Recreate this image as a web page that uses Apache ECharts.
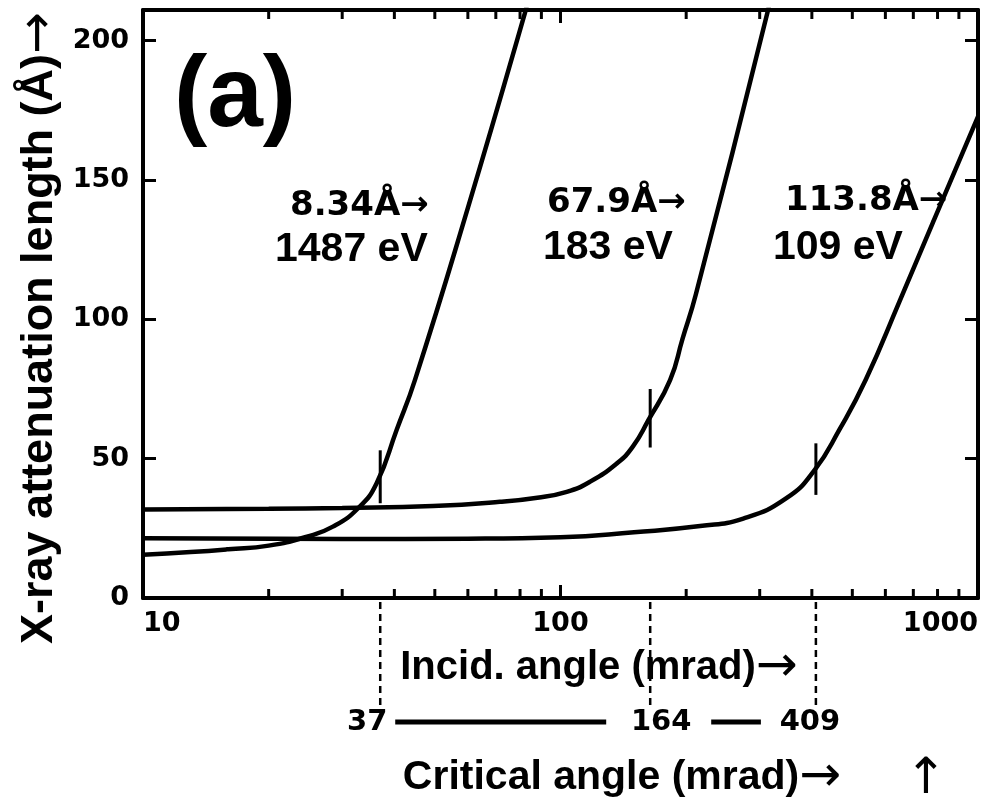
<!DOCTYPE html>
<html>
<head>
<meta charset="utf-8">
<script src="https://cdn.jsdelivr.net/npm/echarts@6/dist/echarts.min.js"></script>
<style>
html,body{margin:0;padding:0;background:#fff;}
#chart{width:1006px;height:798px;}
</style>
</head>
<body>
<div id="chart"></div>
<script>
// X-ray attenuation length vs. incidence angle for three photon energies
const curve1487eV = [[10,15.5],[13,16.5],[16,17.5],[20,18.8],[24.7,22],[28.5,25.6],[32.8,32.3],[36.3,41.3],[40.5,60.3],[44.8,78.2],[60,140],[82.2,210],[84,216]];
const curve183eV = [[10,31.8],[20,32],[30,32.3],[49.5,33],[71.6,34.5],[88,36],[103.5,38.1],[117.6,41.7],[136.4,48.3],[149,54.3],[162.5,63.9],[183,78.2],[196,93],[211,109],[313,210],[320,218]];
const curve109eV = [[10,21.4],[30,21.2],[60,21.3],[100,21.8],[150,23.6],[216,25.8],[274,28.5],[347.6,35.8],[406,45.9],[466,60.5],[538,78.2],[651,107],[781,135],[1000,172.7]];

// critical angles (mrad) and the short bars drawn across each curve
const criticalAngles = [37, 164, 409];
const criticalBarLow = [34, 54, 37];
const criticalBarHigh = [53, 75, 55.5];

const curveLabels = ['8.34Å→', '67.9Å→', '113.8Å→'];
const energyLabels = ['1487 eV', '183 eV', '109 eV'];

const minorTickValues = [20,30,40,50,60,70,80,90,200,300,400,500,600,700,800,900];
const xRange = [10, 1000];
const yRange = [0, 211];
const yInterval = 50;

const ARIAL = '"Liberation Sans", Arial, sans-serif';
const LETTER = '"DejaVu Sans", sans-serif';
const INK = '#000';
const arrowRich = {a: {font: 'normal 50px "DejaVu Sans"', fill: INK}};

const chart = echarts.init(document.getElementById('chart'), null, {renderer: 'canvas'});

const frameLine = {show: true, onZero: false, lineStyle: {color: INK, width: 4}};
const majorTick = {show: true, inside: true, length: 13, lineStyle: {color: INK, width: 3}};

function curveSeries(name, data) {
  return {
    name, type: 'line', data,
    xAxisIndex: 0, yAxisIndex: 0,
    showSymbol: false, symbol: 'none',
    smooth: 0.5,
    clip: true,
    lineStyle: {color: INK, width: 4.5},
    z: 5
  };
}

const option = {
  backgroundColor: '#fff',
  animation: false,
  grid: {left: 143, right: 28, top: 10, bottom: 200, containLabel: false},
  xAxis: [
    {
      type: 'log', logBase: 10, min: xRange[0], max: xRange[1], position: 'bottom',
      axisLine: frameLine, axisTick: majorTick, splitLine: {show: false}, minorTick: {show: false},
      axisLabel: {
        show: true, color: INK, fontFamily: LETTER, fontWeight: 'bold', fontSize: 27, margin: 12,
        alignMinLabel: 'left', alignMaxLabel: 'right',
        formatter: v => String(Math.round(v))
      }
    },
    {
      type: 'log', logBase: 10, min: xRange[0], max: xRange[1], position: 'top',
      axisLine: frameLine, axisTick: majorTick, splitLine: {show: false},
      axisLabel: {show: false}
    }
  ],
  yAxis: [
    {
      type: 'value', min: yRange[0], max: yRange[1], interval: yInterval, position: 'left',
      axisLine: frameLine, axisTick: majorTick, splitLine: {show: false},
      axisLabel: {
        show: true, color: INK, fontFamily: LETTER, fontWeight: 'bold', fontSize: 27, margin: 14,
        formatter: v => (v % yInterval === 0 ? String(v) : '')
      }
    },
    {
      type: 'value', min: yRange[0], max: yRange[1], interval: yInterval, position: 'right',
      axisLine: frameLine, axisTick: majorTick, splitLine: {show: false},
      axisLabel: {show: false}
    }
  ],
  series: [
    curveSeries('8.34 Å / 1487 eV', curve1487eV),
    curveSeries('67.9 Å / 183 eV', curve183eV),
    curveSeries('113.8 Å / 109 eV', curve109eV),
    {
      // log-spaced minor ticks on the bottom and top frame
      type: 'custom', xAxisIndex: 0, yAxisIndex: 0,
      data: minorTickValues.map(v => [v, yRange[0]]),
      encode: {x: 0, y: 1},
      silent: true, z: 4,
      renderItem(params, api) {
        const v = api.value(0);
        const b = api.coord([v, yRange[0]]);
        const t = api.coord([v, yRange[1]]);
        const st = {stroke: INK, lineWidth: 3};
        return {type: 'group', children: [
          {type: 'line', shape: {x1: b[0], y1: b[1], x2: b[0], y2: b[1] - 9}, style: st},
          {type: 'line', shape: {x1: t[0], y1: t[1], x2: t[0], y2: t[1] + 9}, style: st}
        ]};
      }
    },
    {
      // critical-angle bars, dashed drop lines and the critical-angle scale below
      type: 'custom', xAxisIndex: 0, yAxisIndex: 0, clip: false,
      data: criticalAngles.map((a, i) => [a, criticalBarLow[i], criticalBarHigh[i], i]),
      encode: {x: 0, y: 1},
      silent: true, z: 6,
      renderItem(params, api) {
        const a = api.value(0), i = api.value(3);
        const lo = api.coord([a, api.value(1)]);
        const hi = api.coord([a, api.value(2)]);
        const base = api.coord([a, yRange[0]]);
        const rowY = base[1] + 124;
        const labelShift = [-13, 11, -6][i];
        const children = [
          {type: 'line', shape: {x1: lo[0], y1: lo[1], x2: hi[0], y2: hi[1]}, style: {stroke: INK, lineWidth: 3}},
          {type: 'line', shape: {x1: base[0], y1: base[1] + 4, x2: base[0], y2: base[1] + 110},
            style: {stroke: INK, lineWidth: 2.5, lineDash: [7, 5]}},
          {type: 'text', style: {text: String(a), x: base[0] + labelShift, y: rowY,
            align: 'center', verticalAlign: 'middle', fill: INK,
            font: 'bold 29px ' + LETTER}}
        ];
        if (i < criticalAngles.length - 1) {
          const next = api.coord([criticalAngles[i + 1], yRange[0]]);
          const x1 = base[0] + (i === 0 ? 15 : 61);
          const x2 = next[0] - (i === 0 ? 44 : 55);
          children.push({type: 'line', shape: {x1, y1: rowY, x2, y2: rowY}, style: {stroke: INK, lineWidth: 5}});
        }
        return {type: 'group', children};
      }
    }
  ],
  graphic: [
    {type: 'text', x: 235, y: 98, style: {text: '(a)', font: 'bold 100px ' + ARIAL, fill: INK, align: 'center', verticalAlign: 'middle'}},
    {type: 'text', x: 40, y: 328, rotation: Math.PI / 2,
      style: {text: 'X-ray attenuation length (Å){a|→}', font: 'bold 45px ' + ARIAL, fill: INK, align: 'center', verticalAlign: 'middle', rich: arrowRich}},
    {type: 'text', x: 290, y: 206, style: {text: curveLabels[0], font: 'bold 34px ' + LETTER, fill: INK, align: 'left', verticalAlign: 'middle'}},
    {type: 'text', x: 547, y: 203, style: {text: curveLabels[1], font: 'bold 34px ' + LETTER, fill: INK, align: 'left', verticalAlign: 'middle'}},
    {type: 'text', x: 785, y: 201, style: {text: curveLabels[2], font: 'bold 34px ' + LETTER, fill: INK, align: 'left', verticalAlign: 'middle'}},
    {type: 'text', x: 275, y: 250, style: {text: energyLabels[0], font: 'bold 41px ' + ARIAL, fill: INK, align: 'left', verticalAlign: 'middle'}},
    {type: 'text', x: 543, y: 248, style: {text: energyLabels[1], font: 'bold 41px ' + ARIAL, fill: INK, align: 'left', verticalAlign: 'middle'}},
    {type: 'text', x: 773, y: 248, style: {text: energyLabels[2], font: 'bold 41px ' + ARIAL, fill: INK, align: 'left', verticalAlign: 'middle'}},
    {type: 'text', x: 599, y: 668, z: 10, style: {text: 'Incid. angle (mrad){a|→}', font: 'bold 40px ' + ARIAL, fill: INK, align: 'center', verticalAlign: 'middle', rich: arrowRich}},
    {type: 'text', x: 622, y: 778, style: {text: 'Critical angle (mrad){a|→}', font: 'bold 41px ' + ARIAL, fill: INK, align: 'center', verticalAlign: 'middle', rich: arrowRich}},
    {type: 'text', x: 926, y: 780, style: {text: '↑', font: 'normal 50px "DejaVu Sans"', fill: INK, align: 'center', verticalAlign: 'middle'}}
  ]
};

chart.setOption(option);
</script>
</body>
</html>
